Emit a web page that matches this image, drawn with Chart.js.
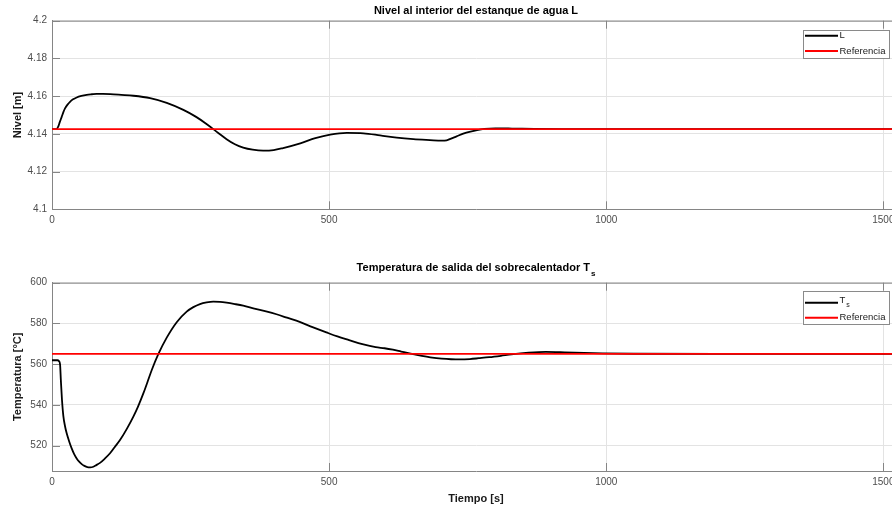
<!DOCTYPE html>
<html>
<head>
<meta charset="utf-8">
<script src="https://cdn.jsdelivr.net/npm/chart.js@4.4.1/dist/chart.umd.min.js"></script>
<style>
  html, body { margin: 0; padding: 0; background: #fff; overflow: hidden; width: 892px; height: 510px; }
  .panel { position: absolute; left: 0; width: 904px; height: 255px; }
</style>
</head>
<body>
<div class="panel" style="top:0"><canvas id="nivel" width="904" height="255"></canvas></div>
<div class="panel" style="top:255px"><canvas id="temp" width="904" height="255"></canvas></div>
<script>
// tick labels
const timeTicks = [0, 500, 1000, 1500];
const levelTicks = [4.1, 4.12, 4.14, 4.16, 4.18, 4.2];
const tempTicks = [520, 540, 560, 580, 600];

// reference lines span the whole run
const refTime = [0, 1530];
const levelRef = [4.1425, 4.1425];
const tempRef = [565, 565];

// nivel L [m]
const levelTime = [0, 8, 11, 14, 17.5, 20.5, 23.5, 28, 32.5, 38, 44.5, 53, 62.6, 72, 80.6, 92, 105, 125, 147, 177,
  207, 237, 260, 280, 300, 315, 330, 345, 362, 381, 400, 417, 448, 475, 502, 532, 562, 592, 622, 652,
  682, 703, 712, 720, 730, 742, 755, 767, 780, 800, 830, 870, 920, 1000, 1530];
const levelValue = [4.1425, 4.1425, 4.1437, 4.1462, 4.149, 4.1515, 4.1535, 4.1555, 4.157, 4.1583, 4.1593, 4.1601,
  4.1607, 4.161, 4.1612, 4.1612, 4.1611, 4.1607, 4.1602, 4.1589, 4.1564, 4.1527, 4.149, 4.145, 4.1405, 4.1372,
  4.1345, 4.1327, 4.1316, 4.1311, 4.1314, 4.1325, 4.135, 4.1377, 4.1396, 4.1405, 4.1403, 4.1392, 4.138, 4.1372,
  4.1367, 4.1364, 4.1366, 4.1375, 4.1387, 4.1401, 4.1412, 4.142, 4.1426, 4.1429, 4.1428, 4.1426, 4.1425, 4.1425, 4.1425];

// temperatura Ts [°C]
const tempTime = [0, 10, 12.5, 14.5, 16, 18, 20.5, 23.5, 26.5, 31, 35.5, 40, 44.5, 49, 53.6, 58.5, 63.8, 69, 74.6, 80,
  86.6, 95, 104.7, 113, 122.7, 135, 146.8, 155, 164.8, 172, 180, 192, 207, 225, 243, 255, 267, 279, 291, 303,
  315, 330, 345, 365, 388, 405, 424, 448, 470, 495, 515, 536, 560, 584, 600, 615, 630, 645, 665, 686,
  703, 720, 737, 754, 770, 789, 810, 829, 860, 891, 925, 960, 993, 1050, 1200, 1530];
const tempValue = [561.9, 561.9, 561.5, 560, 552, 542.5, 534.5, 529.5, 526, 522, 518.6, 515.8, 513.7, 512.1, 510.9, 510,
  509.4, 509.3, 509.6, 510.4, 511.5, 513.5, 516.2, 519.2, 522.7, 528.2, 534.2, 539, 545.6, 551, 557.1, 565, 573,
  580.6, 585.8, 588, 589.5, 590.3, 590.7, 590.6, 590.2, 589.5, 588.7, 587.3, 585.8, 584.5, 582.8, 580.6, 578.2,
  575.6, 573.6, 571.8, 569.8, 568.3, 567.8, 567.1, 566.2, 565.3, 564.2, 563.2, 562.7, 562.4, 562.3, 562.5, 562.9,
  563.4, 564.1, 564.8, 565.6, 566, 565.8, 565.5, 565.3, 565.1, 565, 565];

const FONT = '"Liberation Sans", Arial, sans-serif';
const AXIS = '#858585';

const pts = (xs, ys) => xs.map((x, i) => ({ x: x, y: ys[i] }));

function drawLabel(ctx, x, y, text, sub, size, bold, align) {
  const w = bold ? 'bold ' : '';
  ctx.font = w + size + 'px ' + FONT;
  const mainW = ctx.measureText(text).width;
  ctx.font = w + Math.round(size * 0.7) + 'px ' + FONT;
  const subW = sub ? ctx.measureText(sub).width + 1 : 0;
  let x0 = align === 'center' ? x - (mainW + subW) / 2 : x;
  ctx.textAlign = 'left';
  ctx.textBaseline = 'middle';
  ctx.font = w + size + 'px ' + FONT;
  ctx.fillText(text, x0, sub ? y - size * 0.25 : y);
  if (sub) {
    ctx.font = w + Math.round(size * 0.7) + 'px ' + FONT;
    ctx.fillText(sub, x0 + mainW + 1, y + size * 0.3);
  }
}

// MATLAB look: box on top, inward ticks, title with subscript, legend inside axes
const matlabAxes = {
  id: 'matlabAxes',
  beforeDatasetsDraw(chart) {
    const { ctx, chartArea: a, scales } = chart;
    ctx.save();
    ctx.strokeStyle = AXIS;
    ctx.lineWidth = 1;
    ctx.beginPath();
    ctx.moveTo(a.left, a.top + 0.5);
    ctx.lineTo(a.right, a.top + 0.5);
    ctx.moveTo(a.right - 0.5, a.top);
    ctx.lineTo(a.right - 0.5, a.bottom);
    scales.x.ticks.forEach(t => {
      const px = Math.round(scales.x.getPixelForValue(t.value)) + 0.5;
      ctx.moveTo(px, a.bottom); ctx.lineTo(px, a.bottom - 8);
      ctx.moveTo(px, a.top); ctx.lineTo(px, a.top + 8);
    });
    scales.y.ticks.forEach(t => {
      const py = Math.round(scales.y.getPixelForValue(t.value)) + 0.5;
      ctx.moveTo(a.left, py); ctx.lineTo(a.left + 8, py);
      ctx.moveTo(a.right, py); ctx.lineTo(a.right - 8, py);
    });
    ctx.stroke();
    ctx.restore();
  },
  afterDraw(chart, args, opts) {
    const { ctx, chartArea: a } = chart;
    ctx.save();
    ctx.fillStyle = '#000';
    drawLabel(ctx, (a.left + a.right) / 2, a.top - opts.titleGap, opts.title, opts.titleSub, 11, true, 'center');

    const bx = a.right - 11 - 86.5, by = a.top + opts.legendTop;
    ctx.fillStyle = '#fff';
    ctx.fillRect(bx, by, 86.5, opts.legendH);
    ctx.strokeStyle = '#8a8a8a';
    ctx.lineWidth = 1;
    ctx.strokeRect(Math.round(bx) + 0.5, Math.round(by) + 0.5, 86, Math.round(opts.legendH));
    chart.data.datasets.forEach((ds, i) => {
      const ry = by + opts.rows[i];
      ctx.strokeStyle = ds.borderColor;
      ctx.lineWidth = 2;
      ctx.beginPath();
      ctx.moveTo(bx + 2.5, ry);
      ctx.lineTo(bx + 35.5, ry);
      ctx.stroke();
      ctx.fillStyle = '#1a1a1a';
      drawLabel(ctx, bx + 37, ry, ds.label, ds.labelSub, 9.5, false, 'left');
    });
    ctx.restore();
  }
};

function makeChart(id, cfg) {
  return new Chart(document.getElementById(id), {
    type: 'line',
    data: {
      datasets: [
        {
          label: cfg.name, labelSub: cfg.nameSub,
          data: pts(cfg.time, cfg.values),
          borderColor: '#000000', borderWidth: 1.8, order: 2,
          pointRadius: 0, cubicInterpolationMode: 'monotone'
        },
        {
          label: 'Referencia',
          data: pts(refTime, cfg.ref),
          borderColor: '#ff0000', borderWidth: 1.8, order: 1,
          pointRadius: 0
        }
      ]
    },
    options: {
      responsive: false,
      animation: false,
      devicePixelRatio: 1,
      layout: { padding: { top: cfg.top, right: 4, left: 0, bottom: 0 } },
      plugins: {
        legend: { display: false },
        tooltip: { enabled: false },
        matlabAxes: cfg.deco
      },
      scales: {
        x: {
          type: 'linear', min: 0, max: 1530,
          afterBuildTicks: s => { s.ticks = timeTicks.map(v => ({ value: v })); },
          afterFit: s => { s.height = cfg.xAxisH; },
          ticks: { font: { size: 10, family: FONT }, color: '#4d4d4d', padding: 5, maxRotation: 0, autoSkip: false,
            callback: v => String(v) },
          grid: { color: '#e3e3e3', drawTicks: false },
          border: { color: AXIS },
          title: cfg.xTitle ? { display: true, text: cfg.xTitle, color: '#1a1a1a',
            font: { size: 11, weight: 'bold', family: FONT }, padding: { top: 0, bottom: 4.4 } } : { display: false }
        },
        y: {
          type: 'linear', min: cfg.yMin, max: cfg.yMax,
          afterBuildTicks: s => { s.ticks = cfg.yTicks.map(v => ({ value: v })); },
          afterFit: s => { s.width = 52; },
          ticks: { font: { size: 10, family: FONT }, color: '#4d4d4d', padding: 5, callback: v => String(v) },
          grid: { color: '#e3e3e3', drawTicks: false },
          border: { color: AXIS },
          title: { display: true, text: cfg.yTitle, color: '#1a1a1a',
            font: { size: 11, weight: 'bold', family: FONT }, padding: { top: 11, bottom: 0 } }
        }
      }
    },
    plugins: [matlabAxes]
  });
}

makeChart('nivel', {
  name: 'L', time: levelTime, values: levelValue, ref: levelRef,
  yMin: 4.1, yMax: 4.2, yTicks: levelTicks, yTitle: 'Nivel [m]',
  top: 20.7, xAxisH: 45.7,
  deco: { title: 'Nivel al interior del estanque de agua L', titleGap: 9.5,
    legendTop: 9.3, legendH: 28, rows: [5.7, 21] }
});

makeChart('temp', {
  name: 'T', nameSub: 's', time: tempTime, values: tempValue, ref: tempRef,
  yMin: 507.5, yMax: 600, yTicks: tempTicks, yTitle: 'Temperatura [°C]', xTitle: 'Tiempo [s]',
  top: 27.7, xAxisH: 39,
  deco: { title: 'Temperatura de salida del sobrecalentador T', titleSub: 's', titleGap: 12,
    legendTop: 8.3, legendH: 33, rows: [11.7, 26.7] }
});
</script>
</body>
</html>
